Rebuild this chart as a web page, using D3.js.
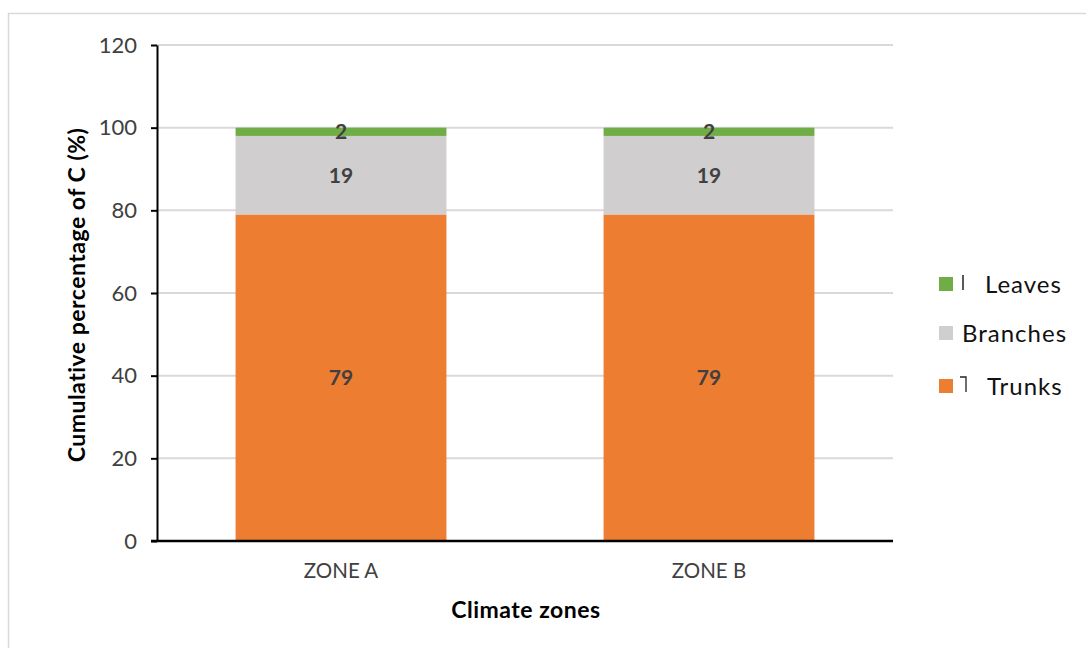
<!DOCTYPE html>
<html>
<head>
<meta charset="utf-8">
<script src="https://cdn.jsdelivr.net/npm/d3@7"></script>
<style>
  html, body { margin: 0; padding: 0; background: #fff; }
  svg { display: block; font-family: Lato, "Open Sans", sans-serif; }
</style>
</head>
<body>
<svg id="chart" width="1086" height="648"></svg>
<script>
// Carbon share by tree compartment, per climate zone
const zones = ["ZONE A", "ZONE B"];
const trunks = [79, 79];
const branches = [19, 19];
const leaves = [2, 2];
const yTicks = [0, 20, 40, 60, 80, 100, 120];

const seriesDefs = [
  { key: "Trunks", values: trunks, color: "#ED7D31" },
  { key: "Branches", values: branches, color: "#D0CECE" },
  { key: "Leaves", values: leaves, color: "#70AD47" }
];

const rows = zones.map((z, i) => {
  const r = { zone: z };
  seriesDefs.forEach(s => r[s.key] = s.values[i]);
  return r;
});

const stack = d3.stack().keys(seriesDefs.map(s => s.key))(rows);

const FONT = "Lato, 'Open Sans', sans-serif";
const svg = d3.select("#chart");
const W = 1086, H = 648;

// outer chart frame
svg.append("rect")
  .attr("x", 8.5).attr("y", 13.5)
  .attr("width", W + 10).attr("height", H + 10)
  .attr("fill", "none").attr("stroke", "#d9d9d9").attr("stroke-width", 1.5);

const plot = { left: 157, right: 893, top: 45, bottom: 541 };

const x = d3.scaleBand().domain(zones)
  .range([plot.left, plot.right]).paddingInner(0.427).paddingOuter(0.2135);
const y = d3.scaleLinear().domain([0, 120]).range([plot.bottom, plot.top]);

// horizontal gridlines
svg.append("g")
  .selectAll("line")
  .data(yTicks.filter(t => t > 0))
  .join("line")
  .attr("x1", plot.left).attr("x2", plot.right)
  .attr("y1", d => y(d)).attr("y2", d => y(d))
  .attr("stroke", "#d9d9d9").attr("stroke-width", 2);

// stacked bars
const layers = svg.append("g").selectAll("g")
  .data(stack)
  .join("g")
  .attr("fill", (d, i) => seriesDefs[i].color);

layers.selectAll("rect")
  .data(d => d)
  .join("rect")
  .attr("x", d => x(d.data.zone))
  .attr("width", x.bandwidth())
  .attr("y", d => y(d[1]))
  .attr("height", d => y(d[0]) - y(d[1]));

// value labels inside the segments
layers.selectAll("text")
  .data((d, i) => d.map(v => ({ v, key: seriesDefs[i].key })))
  .join("text")
  .attr("x", d => x(d.v.data.zone) + x.bandwidth() / 2)
  .attr("y", d => (y(d.v[0]) + y(d.v[1])) / 2)
  .attr("dy", "0.36em")
  .attr("text-anchor", "middle")
  .attr("fill", "#404040")
  .attr("font-weight", "bold")
  .attr("font-size", 21)
  .attr("font-family", FONT)
  .text(d => d.v.data[d.key]);

// y axis
const yAxis = svg.append("g")
  .attr("transform", `translate(${plot.left},0)`)
  .call(d3.axisLeft(y).tickValues(yTicks).tickSize(6).tickPadding(14).tickSizeOuter(0));
yAxis.attr("font-family", FONT).attr("font-size", 22);
yAxis.select(".domain").attr("stroke", "#000").attr("stroke-width", 2);
yAxis.selectAll(".tick line").attr("stroke", "#000").attr("stroke-width", 2);
yAxis.selectAll(".tick text").attr("fill", "#404040");

// x axis
const xAxis = svg.append("g")
  .attr("transform", `translate(0,${plot.bottom})`)
  .call(d3.axisBottom(x).tickSize(0).tickPadding(22));
xAxis.attr("font-family", FONT).attr("font-size", 20.5);
xAxis.select(".domain")
  .attr("d", `M${plot.left - 6},0H${plot.right}`)
  .attr("stroke", "#000").attr("stroke-width", 2.5);
xAxis.selectAll(".tick text").attr("fill", "#404040");

// axis titles
svg.append("text")
  .attr("x", 526).attr("y", 618)
  .attr("text-anchor", "middle")
  .attr("font-family", FONT)
  .attr("font-size", 23).attr("font-weight", "bold").attr("fill", "#000")
  .attr("letter-spacing", 0.5)
  .text("Climate zones");

svg.append("text")
  .attr("transform", "translate(85,295) rotate(-90)")
  .attr("text-anchor", "middle")
  .attr("font-family", FONT)
  .attr("font-size", 23).attr("font-weight", "bold").attr("fill", "#000")
  .attr("letter-spacing", 0.5)
  .text("Cumulative percentage of C (%)");

// legend
const legendRows = [
  { key: "Leaves", y: 284, tx: 985, mark: "bar" },
  { key: "Branches", y: 333, tx: 962, mark: null },
  { key: "Trunks", y: 386, tx: 987, mark: "hook" }
];
const colorOf = k => seriesDefs.find(s => s.key === k).color;
const legend = svg.append("g");
legendRows.forEach(r => {
  legend.append("rect")
    .attr("x", 939).attr("y", r.y - 7)
    .attr("width", 14).attr("height", 14)
    .attr("fill", colorOf(r.key));
  legend.append("text")
    .attr("x", r.tx).attr("y", r.y)
    .attr("dy", "0.36em")
    .attr("font-family", FONT)
    .attr("font-size", 24).attr("fill", "#111")
    .attr("letter-spacing", 1)
    .text(r.key);
  if (r.mark === "bar") {
    legend.append("line")
      .attr("x1", 963).attr("x2", 963)
      .attr("y1", r.y - 9).attr("y2", r.y + 6)
      .attr("stroke", "#222").attr("stroke-width", 1.5);
  } else if (r.mark === "hook") {
    legend.append("path")
      .attr("d", `M960,${r.y - 9}H966V${r.y + 6}`)
      .attr("fill", "none")
      .attr("stroke", "#222").attr("stroke-width", 1.3);
  }
});
</script>
</body>
</html>
